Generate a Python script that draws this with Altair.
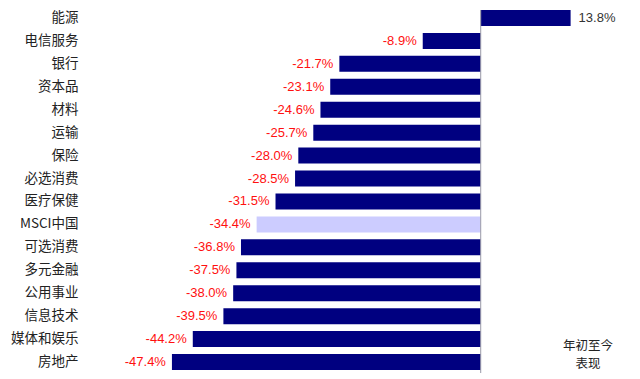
import altair as alt
import pandas as pd

categories = ["能源", "电信服务", "银行", "资本品", "材料", "运输", "保险", "必选消费",
              "医疗保健", "MSCI中国", "可选消费", "多元金融", "公用事业", "信息技术",
              "媒体和娱乐", "房地产"]
values = [13.8, -8.9, -21.7, -23.1, -24.6, -25.7, -28.0, -28.5,
          -31.5, -34.4, -36.8, -37.5, -38.0, -39.5, -44.2, -47.4]
highlight = "MSCI中国"
note_lines = ["年初至今", "表现"]

df = pd.DataFrame({"cat": categories, "value": values})
df["label"] = [f"{v:.1f}%" for v in values]
df["zero"] = 0.0
df["kind"] = ["hl" if c == highlight else "std" for c in categories]

neg_df = df[df["value"] < 0]
pos_df = df[df["value"] >= 0]
zero_df = pd.DataFrame({"zero": [0.0]})
note1_df = pd.DataFrame({"t": [note_lines[0]]})
note2_df = pd.DataFrame({"t": [note_lines[1]]})

W, H = 456, 360
x_scale = alt.Scale(domain=[-50, 20], nice=False, zero=False)

bars = alt.Chart(df).mark_bar().encode(
    y=alt.Y("cat:N", sort=categories,
            scale=alt.Scale(paddingInner=0.304, paddingOuter=0),
            axis=alt.Axis(title=None, ticks=False, domain=False, labelPadding=77,
                          labelFontSize=13.5, labelColor="#222222",
                          labelFont="Noto Sans CJK SC")),
    x=alt.X("value:Q", scale=x_scale, axis=None),
    x2="zero:Q",
    color=alt.Color("kind:N", scale=alt.Scale(domain=["std", "hl"], range=["#000080", "#CCCCFF"]),
                    legend=None),
)

zero_rule = alt.Chart(zero_df).mark_rule(color="#9a9aa8", strokeWidth=1).encode(
    x=alt.X("zero:Q", scale=x_scale),
    y=alt.value(0),
    y2=alt.value(H + 3),
)

neg_labels = alt.Chart(neg_df).mark_text(
    align="right", baseline="middle", dx=-6, fontSize=13, color="#FF1010",
    font="Liberation Sans"
).encode(y=alt.Y("cat:N", sort=categories), x=alt.X("value:Q", scale=x_scale), text="label:N")

pos_labels = alt.Chart(pos_df).mark_text(
    align="left", baseline="middle", dx=8, fontSize=13, color="#333333",
    font="Liberation Sans"
).encode(y=alt.Y("cat:N", sort=categories), x=alt.X("value:Q", scale=x_scale), text="label:N")

note1 = alt.Chart(note1_df).mark_text(
    align="center", baseline="middle", fontSize=12.5, color="#222222", font="Noto Sans CJK SC"
).encode(x=alt.value(433), y=alt.value(336), text="t:N")
note2 = alt.Chart(note2_df).mark_text(
    align="center", baseline="middle", fontSize=12.5, color="#222222", font="Noto Sans CJK SC"
).encode(x=alt.value(433), y=alt.value(354), text="t:N")

chart = alt.layer(bars, zero_rule, neg_labels, pos_labels, note1, note2).properties(
    width=W, height=H,
    padding={"left": 2, "top": 1, "right": 5, "bottom": 0},
).configure_view(strokeWidth=0)

chart.save("out.html", embed_options={"renderer": "svg", "actions": False})
